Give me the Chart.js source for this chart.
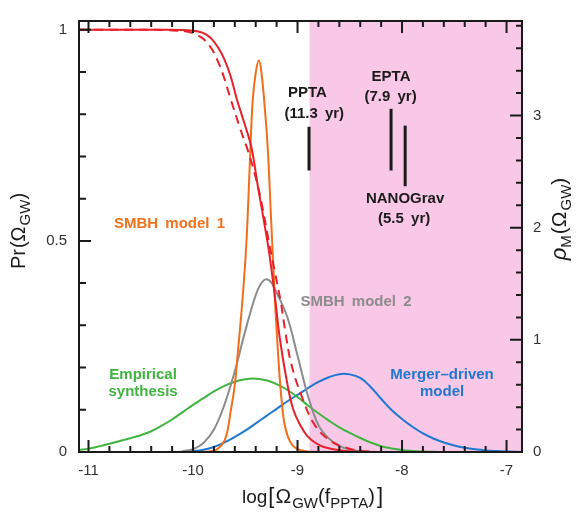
<!DOCTYPE html>
<html>
<head>
<meta charset="utf-8">
<script src="https://cdn.jsdelivr.net/npm/chart.js@4.4.1/dist/chart.umd.min.js"></script>
<style>
  html, body { margin: 0; padding: 0; background: #fff; }
  canvas { display: block; }
</style>
</head>
<body>
<canvas id="gwChart" width="577" height="518"></canvas>
<script>
// axis ticks
const xTicks = [-11, -10, -9, -8, -7];
const prTicks = [0, 0.5, 1];
const rhoTicks = [0, 1, 2, 3];

// cumulative probability Pr(Omega_GW), left axis
const redSolidX = [-11.09, -10.3, -10.05, -9.95, -9.88, -9.82, -9.76, -9.70, -9.64, -9.58, -9.51, -9.44, -9.38, -9.32, -9.27, -9.215, -9.17, -9.10, -9.04, -8.97, -8.91, -8.83, -8.75, -8.6, -8.45, -8.3];
const redSolidY = [1.0, 1.0, 0.999, 0.996, 0.99, 0.978, 0.958, 0.93, 0.89, 0.835, 0.78, 0.72, 0.63, 0.545, 0.47, 0.365, 0.27, 0.165, 0.10, 0.062, 0.039, 0.022, 0.012, 0.004, 0.001, 0];
const redDashX = [-11.09, -10.35, -10.15, -10.06, -9.98, -9.90, -9.83, -9.77, -9.71, -9.65, -9.55, -9.47, -9.40, -9.34, -9.28, -9.22, -9.16, -9.12, -9.06, -8.96, -8.83, -8.67, -8.52, -8.4, -8.25];
const redDashY = [1.0, 1.0, 0.998, 0.996, 0.99, 0.978, 0.958, 0.93, 0.892, 0.844, 0.767, 0.71, 0.65, 0.585, 0.505, 0.43, 0.355, 0.29, 0.209, 0.132, 0.062, 0.024, 0.009, 0.003, 0];

// model densities rho_M(Omega_GW), right axis
const smbh1X = [-9.95, -9.85, -9.78, -9.72, -9.68, -9.64, -9.60, -9.57, -9.53, -9.49, -9.455, -9.43, -9.40, -9.37, -9.345, -9.31, -9.285, -9.25, -9.215, -9.18, -9.15, -9.12, -9.07, -9.01, -8.9, -8.75];
const smbh1Y = [0, 0.005, 0.02, 0.07, 0.15, 0.36, 0.6, 0.9, 1.32, 1.85, 2.6, 3.12, 3.38, 3.49, 3.38, 3.03, 2.71, 2.02, 1.34, 0.79, 0.44, 0.23, 0.09, 0.03, 0.005, 0];
const smbh2X = [-10.1, -10.0, -9.9, -9.8, -9.7, -9.6, -9.5, -9.4, -9.35, -9.3, -9.25, -9.2, -9.1, -9.0, -8.9, -8.8, -8.7, -8.6, -8.5, -8.4, -8.3, -8.2];
const smbh2Y = [0.01, 0.025, 0.08, 0.2, 0.42, 0.72, 1.08, 1.40, 1.50, 1.54, 1.51, 1.42, 1.21, 0.86, 0.50, 0.24, 0.12, 0.055, 0.022, 0.008, 0.002, 0];
const empiricalX = [-11.09, -11.0, -10.9, -10.8, -10.7, -10.6, -10.5, -10.4, -10.3, -10.2, -10.1, -10.0, -9.9, -9.8, -9.7, -9.6, -9.5, -9.4, -9.3, -9.2, -9.1, -9.0, -8.9, -8.8, -8.7, -8.6, -8.5, -8.4, -8.3, -8.2, -8.1, -8.0, -7.9, -7.8, -7.7, -7.6];
const empiricalY = [0.02, 0.03, 0.05, 0.073, 0.098, 0.123, 0.15, 0.185, 0.235, 0.29, 0.355, 0.42, 0.48, 0.54, 0.59, 0.627, 0.648, 0.654, 0.64, 0.605, 0.555, 0.49, 0.415, 0.345, 0.28, 0.22, 0.17, 0.125, 0.085, 0.052, 0.032, 0.018, 0.01, 0.005, 0.002, 0];
const mergerX = [-10.2, -10.1, -10.0, -9.9, -9.8, -9.7, -9.6, -9.5, -9.4, -9.3, -9.2, -9.1, -9.0, -8.9, -8.8, -8.7, -8.6, -8.5, -8.4, -8.3, -8.2, -8.1, -8.0, -7.9, -7.8, -7.7, -7.6, -7.5, -7.4, -7.3, -7.2, -7.1, -7.0, -6.85];
const mergerY = [0, 0.002, 0.008, 0.02, 0.045, 0.085, 0.135, 0.19, 0.255, 0.32, 0.385, 0.45, 0.51, 0.57, 0.625, 0.667, 0.694, 0.692, 0.66, 0.58, 0.475, 0.375, 0.295, 0.225, 0.165, 0.12, 0.085, 0.058, 0.038, 0.024, 0.014, 0.008, 0.004, 0.001];

// PTA upper limits (log Omega) and excluded region
const excludedFrom = -8.885;
const limitX = [-8.89, -8.105, -7.97];
const limitTop = [2.90, 3.06, 2.91];
const limitBottom = [2.51, 2.51, 2.37];

const FONT = '"Liberation Sans", Arial, Helvetica, sans-serif';

function series(xs, ys) {
  return xs.map((x, i) => ({ x: x, y: ys[i] }));
}

// text labels placed in data coords (x, rho)
const notes = [
  { text: 'SMBH model 1', x: -10.225, y: 2.035, color: '#f2711c' },
  { text: 'SMBH model 2', x: -8.44, y: 1.339, color: '#8c8c8c' },
  { text: 'Empirical', x: -10.478, y: 0.687, color: '#3fb53f' },
  { text: 'synthesis', x: -10.478, y: 0.539, color: '#3fb53f' },
  { text: 'Merger\u2013driven', x: -7.617, y: 0.687, color: '#1f77cf' },
  { text: 'model', x: -7.617, y: 0.539, color: '#1f77cf' },
  { text: 'PPTA', x: -8.905, y: 3.20, color: '#1a1a1a' },
  { text: '(11.3 yr)', x: -8.84, y: 3.017, color: '#1a1a1a' },
  { text: 'EPTA', x: -8.105, y: 3.348, color: '#1a1a1a' },
  { text: '(7.9 yr)', x: -8.11, y: 3.165, color: '#1a1a1a' },
  { text: 'NANOGrav', x: -7.971, y: 2.261, color: '#1a1a1a' },
  { text: '(5.5 yr)', x: -7.98, y: 2.078, color: '#1a1a1a' }
];

function drawRich(ctx, runs, x, y, angle) {
  ctx.save();
  ctx.translate(x, y);
  ctx.rotate(angle);
  ctx.textAlign = 'left';
  ctx.textBaseline = 'alphabetic';
  let total = 0;
  runs.forEach(r => {
    ctx.font = r.font;
    r.w = ctx.measureText(r.t).width + (r.pad || 0);
    total += r.w;
  });
  let cx = -total / 2;
  runs.forEach(r => {
    ctx.font = r.font;
    ctx.fillText(r.t, cx, r.dy || 0);
    cx += r.w;
  });
  ctx.restore();
}

const decor = {
  id: 'decor',
  beforeDatasetsDraw(chart) {
    const ctx = chart.ctx, a = chart.chartArea, x = chart.scales.x;
    ctx.save();
    ctx.fillStyle = '#f8c8e6';
    const px = x.getPixelForValue(excludedFrom);
    ctx.fillRect(px, a.top, a.right - px, a.bottom - a.top);
    ctx.restore();
  },
  afterDatasetsDraw(chart) {
    const ctx = chart.ctx, a = chart.chartArea;
    const sx = chart.scales.x, sy = chart.scales.y, sr = chart.scales.y2;
    ctx.save();

    // PTA limit bars
    ctx.strokeStyle = '#1a1a1a';
    ctx.lineWidth = 3;
    limitX.forEach((lx, i) => {
      const px = sx.getPixelForValue(lx);
      ctx.beginPath();
      ctx.moveTo(px, sr.getPixelForValue(limitTop[i]));
      ctx.lineTo(px, sr.getPixelForValue(limitBottom[i]));
      ctx.stroke();
    });

    // labels
    ctx.font = 'bold 15px ' + FONT;
    ctx.textAlign = 'center';
    ctx.textBaseline = 'middle';
    if ('wordSpacing' in ctx) ctx.wordSpacing = '3px';
    notes.forEach(n => {
      ctx.fillStyle = n.color;
      ctx.fillText(n.text, sx.getPixelForValue(n.x), sr.getPixelForValue(n.y));
    });
    if ('wordSpacing' in ctx) ctx.wordSpacing = '0px';

    // frame
    ctx.strokeStyle = '#1a1a1a';
    ctx.lineWidth = 2;
    ctx.strokeRect(a.left, a.top, a.right - a.left, a.bottom - a.top);

    // inward ticks
    ctx.beginPath();
    for (let i = 0; i <= 20; i++) {
      const v = -11 + i * 0.2;
      const px = sx.getPixelForValue(v);
      const len = i % 5 === 0 ? 12 : 6;
      ctx.moveTo(px, a.bottom); ctx.lineTo(px, a.bottom - len);
      ctx.moveTo(px, a.top); ctx.lineTo(px, a.top + len);
    }
    for (let i = 0; i <= 10; i++) {
      const py = sy.getPixelForValue(i * 0.1);
      const len = i % 5 === 0 ? 12 : 7;
      ctx.moveTo(a.left, py); ctx.lineTo(a.left + len, py);
    }
    for (let i = 0; i <= 19; i++) {
      const py = sr.getPixelForValue(i * 0.2);
      const len = i % 5 === 0 ? 12 : 6;
      ctx.moveTo(a.right, py); ctx.lineTo(a.right - len, py);
    }
    ctx.stroke();

    // axis titles
    ctx.fillStyle = '#1a1a1a';
    const f = s => s + 'px ' + FONT;
    drawRich(ctx, [
      { t: 'log', font: f(19), pad: 1 },
      { t: '[', font: f(22), pad: 1 },
      { t: '\u03A9', font: f(21), pad: 1 },
      { t: 'GW', font: f(15), dy: 5, pad: 0 },
      { t: '(', font: f(20), pad: 0 },
      { t: 'f', font: f(20), pad: 0 },
      { t: 'PPTA', font: f(15), dy: 5, pad: 0 },
      { t: ')', font: f(20), pad: 2 },
      { t: ']', font: f(22) }
    ], (a.left + a.right) / 2 + 12, 503, 0);

    drawRich(ctx, [
      { t: 'Pr', font: f(20), pad: 1 },
      { t: '(', font: f(20), pad: 0 },
      { t: '\u03A9', font: f(20), pad: 1 },
      { t: 'GW', font: f(15), dy: 5, pad: 0 },
      { t: ')', font: f(20) }
    ], 25, 231, -Math.PI / 2);

    drawRich(ctx, [
      { t: '\u03C1', font: 'italic ' + f(22), pad: 0 },
      { t: 'M', font: f(15), dy: 5, pad: 1 },
      { t: '(', font: f(21), pad: 0 },
      { t: '\u03A9', font: f(21), pad: 1 },
      { t: 'GW', font: f(15), dy: 5, pad: 0 },
      { t: ')', font: f(21) }
    ], 566, 219, -Math.PI / 2);

    ctx.restore();
  }
};

const lineStyle = { pointRadius: 0, borderWidth: 2, fill: false, tension: 0.4 };

new Chart(document.getElementById('gwChart').getContext('2d'), {
  type: 'line',
  data: {
    datasets: [
      Object.assign({ label: 'Pr', data: series(redSolidX, redSolidY), borderColor: '#e8202a', yAxisID: 'y', order: 1 }, lineStyle),
      Object.assign({ label: 'Pr (alt)', data: series(redDashX, redDashY), borderColor: '#e8202a', borderDash: [9, 6], yAxisID: 'y', order: 2 }, lineStyle),
      Object.assign({ label: 'SMBH model 1', data: series(smbh1X, smbh1Y), borderColor: '#f36d1a', yAxisID: 'y2', order: 3 }, lineStyle),
      Object.assign({ label: 'SMBH model 2', data: series(smbh2X, smbh2Y), borderColor: '#8c8c8c', yAxisID: 'y2', order: 4 }, lineStyle),
      Object.assign({ label: 'Empirical synthesis', data: series(empiricalX, empiricalY), borderColor: '#3fb53f', yAxisID: 'y2', order: 5 }, lineStyle),
      Object.assign({ label: 'Merger-driven model', data: series(mergerX, mergerY), borderColor: '#1f77cf', yAxisID: 'y2', order: 6 }, lineStyle)
    ]
  },
  options: {
    responsive: false,
    animation: false,
    devicePixelRatio: 1,
    layout: { padding: { top: 10, left: 0, right: 0, bottom: 0 } },
    plugins: { legend: { display: false }, tooltip: { enabled: false } },
    scales: {
      x: {
        type: 'linear',
        min: -11.091,
        max: -6.852,
        grid: { display: false, drawTicks: false },
        border: { display: false },
        ticks: { color: '#333', font: { family: FONT, size: 15 }, padding: 10, callback: v => String(v) },
        afterBuildTicks: s => { s.ticks = xTicks.map(v => ({ value: v })); },
        afterFit: s => { s.height = 66; }
      },
      y: {
        position: 'left',
        min: 0,
        max: 1.0208,
        grid: { display: false, drawTicks: false },
        border: { display: false },
        ticks: { color: '#333', font: { family: FONT, size: 15 }, padding: 12, callback: v => String(v) },
        afterBuildTicks: s => { s.ticks = prTicks.map(v => ({ value: v })); },
        afterFit: s => { s.width = 79; }
      },
      y2: {
        position: 'right',
        min: 0,
        max: 3.843,
        grid: { display: false, drawTicks: false },
        border: { display: false },
        ticks: { color: '#333', font: { family: FONT, size: 15 }, padding: 11, callback: v => String(v) },
        afterBuildTicks: s => { s.ticks = rhoTicks.map(v => ({ value: v })); },
        afterFit: s => { s.width = 55; }
      }
    }
  },
  plugins: [decor]
});
</script>
</body>
</html>
